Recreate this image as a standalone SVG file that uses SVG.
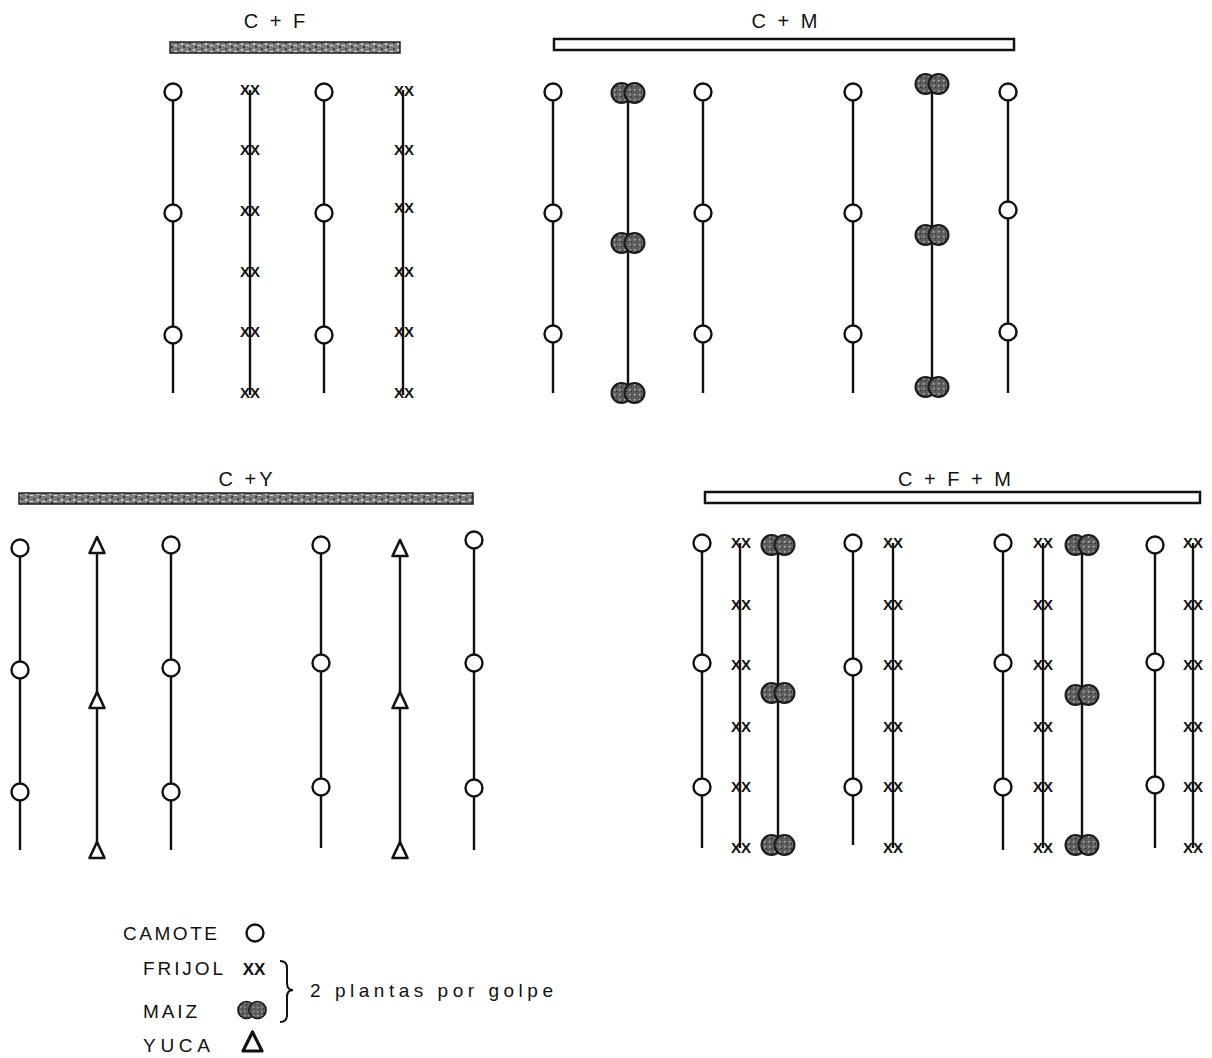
<svg xmlns="http://www.w3.org/2000/svg" xmlns:xlink="http://www.w3.org/1999/xlink" width="1212" height="1058" viewBox="0 0 1212 1058">
  <style>
    .title { font-family: "Liberation Sans", Arial, sans-serif; font-size: 20px; letter-spacing: 3px; fill: #111; text-anchor: middle; }
    .legend { font-family: "Liberation Sans", Arial, sans-serif; font-size: 19px; fill: #111; }
    .fx { font-family: "Liberation Sans", Arial, sans-serif; font-size: 15px; font-weight: bold; letter-spacing: 0px; fill: #111; text-anchor: middle; }
    .row { stroke: #111; stroke-width: 2.4; fill: none; }
    .camote { fill: #fff; stroke: #111; stroke-width: 2.4; }
    .yuca { fill: #fff; stroke: #111; stroke-width: 2.6; stroke-linejoin: round; }
    .barGray { fill: url(#grain); stroke: #222; stroke-width: 1.5; }
    .barWhite { fill: #fff; stroke: #111; stroke-width: 2.5; }
  </style>
  <defs>
    <!-- speckled grey fill for the shaded bars -->
    <pattern id="grain" width="12" height="6" patternUnits="userSpaceOnUse">
      <rect width="12" height="6" fill="#7c7c7c"/>
      <rect x="1" y="1" width="2" height="2" fill="#d0d0d0"/>
      <rect x="6" y="3" width="3" height="1" fill="#e0e0e0"/>
      <rect x="9" y="0" width="2" height="2" fill="#444"/>
      <rect x="3" y="4" width="2" height="2" fill="#3a3a3a"/>
    </pattern>
    <pattern id="maizFill" width="5" height="5" patternUnits="userSpaceOnUse">
      <rect width="5" height="5" fill="#5e5e5e"/>
      <rect x="1" y="1" width="1.5" height="1.5" fill="#b5b5b5"/>
      <rect x="3" y="3" width="1" height="1" fill="#222"/>
    </pattern>
    <!-- maize: two plants per hill -->
    <g id="maiz">
      <circle cx="-6.5" cy="0" r="10" fill="url(#maizFill)" stroke="#1a1a1a" stroke-width="2"/>
      <circle cx="6.5" cy="0" r="10" fill="url(#maizFill)" stroke="#1a1a1a" stroke-width="2"/>
    </g>
    <!-- cassava stake -->
    <path id="yuca" class="yuca" d="M0,-8 L7.5,8 L-7.5,8 Z"/>
    <circle id="cam" class="camote" r="8.5"/>
  </defs>

  <!-- planting rows -->
  <g id="connectors" class="row">
    <!-- C + F -->
    <line x1="173" y1="92" x2="173" y2="393"/>
    <line x1="250" y1="90" x2="250" y2="395"/>
    <line x1="324" y1="92" x2="324" y2="393"/>
    <line x1="403" y1="90" x2="403" y2="395"/>
    <!-- C + M -->
    <line x1="553" y1="92" x2="553" y2="393"/>
    <line x1="628" y1="93" x2="628" y2="390"/>
    <line x1="703" y1="92" x2="703" y2="393"/>
    <line x1="853" y1="92" x2="853" y2="393"/>
    <line x1="932" y1="84" x2="932" y2="384"/>
    <line x1="1008" y1="92" x2="1008" y2="393"/>
    <!-- C + Y -->
    <line x1="20" y1="548" x2="20" y2="850"/>
    <line x1="97" y1="545" x2="97" y2="845"/>
    <line x1="171" y1="545" x2="171" y2="850"/>
    <line x1="321" y1="545" x2="321" y2="848"/>
    <line x1="400" y1="548" x2="400" y2="845"/>
    <line x1="474" y1="540" x2="474" y2="850"/>
    <!-- C + F + M -->
    <line x1="702" y1="543" x2="702" y2="848"/>
    <line x1="740" y1="543" x2="740" y2="848"/>
    <line x1="778" y1="545" x2="778" y2="843"/>
    <line x1="853" y1="543" x2="853" y2="845"/>
    <line x1="893" y1="543" x2="893" y2="848"/>
    <line x1="1003" y1="543" x2="1003" y2="850"/>
    <line x1="1043" y1="543" x2="1043" y2="848"/>
    <line x1="1082" y1="545" x2="1082" y2="843"/>
    <line x1="1155" y1="545" x2="1155" y2="848"/>
    <line x1="1193" y1="543" x2="1193" y2="848"/>
  </g>

  <!-- C + F : sweet potato with beans -->
  <g id="plot-cf">
    <text class="title" x="276" y="28">C + F</text>
    <rect class="barGray" x="170" y="42" width="230" height="11"/>
    <use href="#cam" x="173" y="92"/><use href="#cam" x="173" y="213"/><use href="#cam" x="173" y="335"/>
    <use href="#cam" x="324" y="92"/><use href="#cam" x="324" y="213"/><use href="#cam" x="324" y="335"/>
    <g class="fx">
      <text x="250" y="95">XX</text><text x="250" y="155">XX</text><text x="250" y="216">XX</text>
      <text x="250" y="277">XX</text><text x="250" y="337">XX</text><text x="250" y="398">XX</text>
      <text x="404" y="96">XX</text><text x="404" y="155">XX</text><text x="404" y="213">XX</text>
      <text x="404" y="277">XX</text><text x="404" y="337">XX</text><text x="404" y="398">XX</text>
    </g>
  </g>

  <!-- C + M : sweet potato with maize -->
  <g id="plot-cm">
    <text class="title" x="786" y="28">C + M</text>
    <rect class="barWhite" x="554" y="39" width="460" height="11"/>
    <use href="#cam" x="553" y="92"/><use href="#cam" x="553" y="213"/><use href="#cam" x="553" y="334"/>
    <use href="#cam" x="703" y="92"/><use href="#cam" x="703" y="213"/><use href="#cam" x="703" y="334"/>
    <use href="#cam" x="853" y="92"/><use href="#cam" x="853" y="213"/><use href="#cam" x="853" y="334"/>
    <use href="#cam" x="1008" y="92"/><use href="#cam" x="1008" y="210"/><use href="#cam" x="1008" y="332"/>
    <use href="#maiz" x="628" y="93"/><use href="#maiz" x="628" y="243"/><use href="#maiz" x="628" y="393"/>
    <use href="#maiz" x="932" y="84"/><use href="#maiz" x="932" y="235"/><use href="#maiz" x="932" y="387"/>
  </g>

  <!-- C + Y : sweet potato with cassava -->
  <g id="plot-cy">
    <text class="title" x="247" y="486">C +Y</text>
    <rect class="barGray" x="19" y="493" width="454" height="11"/>
    <use href="#cam" x="20" y="548"/><use href="#cam" x="20" y="670"/><use href="#cam" x="20" y="792"/>
    <use href="#cam" x="171" y="545"/><use href="#cam" x="171" y="668"/><use href="#cam" x="171" y="792"/>
    <use href="#cam" x="321" y="545"/><use href="#cam" x="321" y="663"/><use href="#cam" x="321" y="787"/>
    <use href="#cam" x="474" y="540"/><use href="#cam" x="474" y="663"/><use href="#cam" x="474" y="788"/>
    <use href="#yuca" x="97" y="545"/><use href="#yuca" x="97" y="700"/><use href="#yuca" x="97" y="850"/>
    <use href="#yuca" x="400" y="548"/><use href="#yuca" x="400" y="700"/><use href="#yuca" x="400" y="850"/>
  </g>

  <!-- C + F + M : sweet potato with beans and maize -->
  <g id="plot-cfm">
    <text class="title" x="956" y="486">C + F + M</text>
    <rect class="barWhite" x="705" y="492" width="495" height="11"/>
    <use href="#cam" x="702" y="543"/><use href="#cam" x="702" y="663"/><use href="#cam" x="702" y="787"/>
    <use href="#cam" x="853" y="543"/><use href="#cam" x="853" y="667"/><use href="#cam" x="853" y="787"/>
    <use href="#cam" x="1003" y="543"/><use href="#cam" x="1003" y="663"/><use href="#cam" x="1003" y="787"/>
    <use href="#cam" x="1155" y="545"/><use href="#cam" x="1155" y="662"/><use href="#cam" x="1155" y="785"/>
    <use href="#maiz" x="778" y="545"/><use href="#maiz" x="778" y="693"/><use href="#maiz" x="778" y="845"/>
    <use href="#maiz" x="1082" y="545"/><use href="#maiz" x="1082" y="695"/><use href="#maiz" x="1082" y="845"/>
    <g class="fx">
      <text x="741" y="548">XX</text><text x="741" y="610">XX</text><text x="741" y="670">XX</text>
      <text x="741" y="732">XX</text><text x="741" y="792">XX</text><text x="741" y="853">XX</text>
      <text x="893" y="548">XX</text><text x="893" y="610">XX</text><text x="893" y="670">XX</text>
      <text x="893" y="732">XX</text><text x="893" y="792">XX</text><text x="893" y="853">XX</text>
      <text x="1043" y="548">XX</text><text x="1043" y="610">XX</text><text x="1043" y="670">XX</text>
      <text x="1043" y="732">XX</text><text x="1043" y="792">XX</text><text x="1043" y="853">XX</text>
      <text x="1193" y="548">XX</text><text x="1193" y="610">XX</text><text x="1193" y="670">XX</text>
      <text x="1193" y="732">XX</text><text x="1193" y="792">XX</text><text x="1193" y="853">XX</text>
    </g>
  </g>

  <!-- key -->
  <g id="legend">
    <text class="legend" x="123" y="940" textLength="94" lengthAdjust="spacing">CAMOTE</text>
    <circle class="camote" cx="255" cy="933" r="8.5"/>
    <text class="legend" x="143" y="975" textLength="80" lengthAdjust="spacing">FRIJOL</text>
    <text x="254" y="975" style="font-family:'Liberation Sans',Arial,sans-serif;font-size:17px;font-weight:bold;fill:#111;text-anchor:middle">XX</text>
    <text class="legend" x="143" y="1018" textLength="54" lengthAdjust="spacing">MAIZ</text>
    <g transform="translate(252,1010) scale(0.85)"><use href="#maiz"/></g>
    <text class="legend" x="143" y="1052" textLength="67" lengthAdjust="spacing">YUCA</text>
    <path d="M252.5,1032 L262,1051 L243,1051 Z" fill="#fff" stroke="#111" stroke-width="3.2" stroke-linejoin="round"/>
    <path d="M280,961 Q287,961 287,968 L287,983 Q287,990 293,990 Q287,990 287,997 L287,1015 Q287,1022 280,1022" fill="none" stroke="#111" stroke-width="2"/>
    <text class="legend" x="310" y="997" textLength="243" lengthAdjust="spacing">2 plantas por golpe</text>
  </g>
</svg>
